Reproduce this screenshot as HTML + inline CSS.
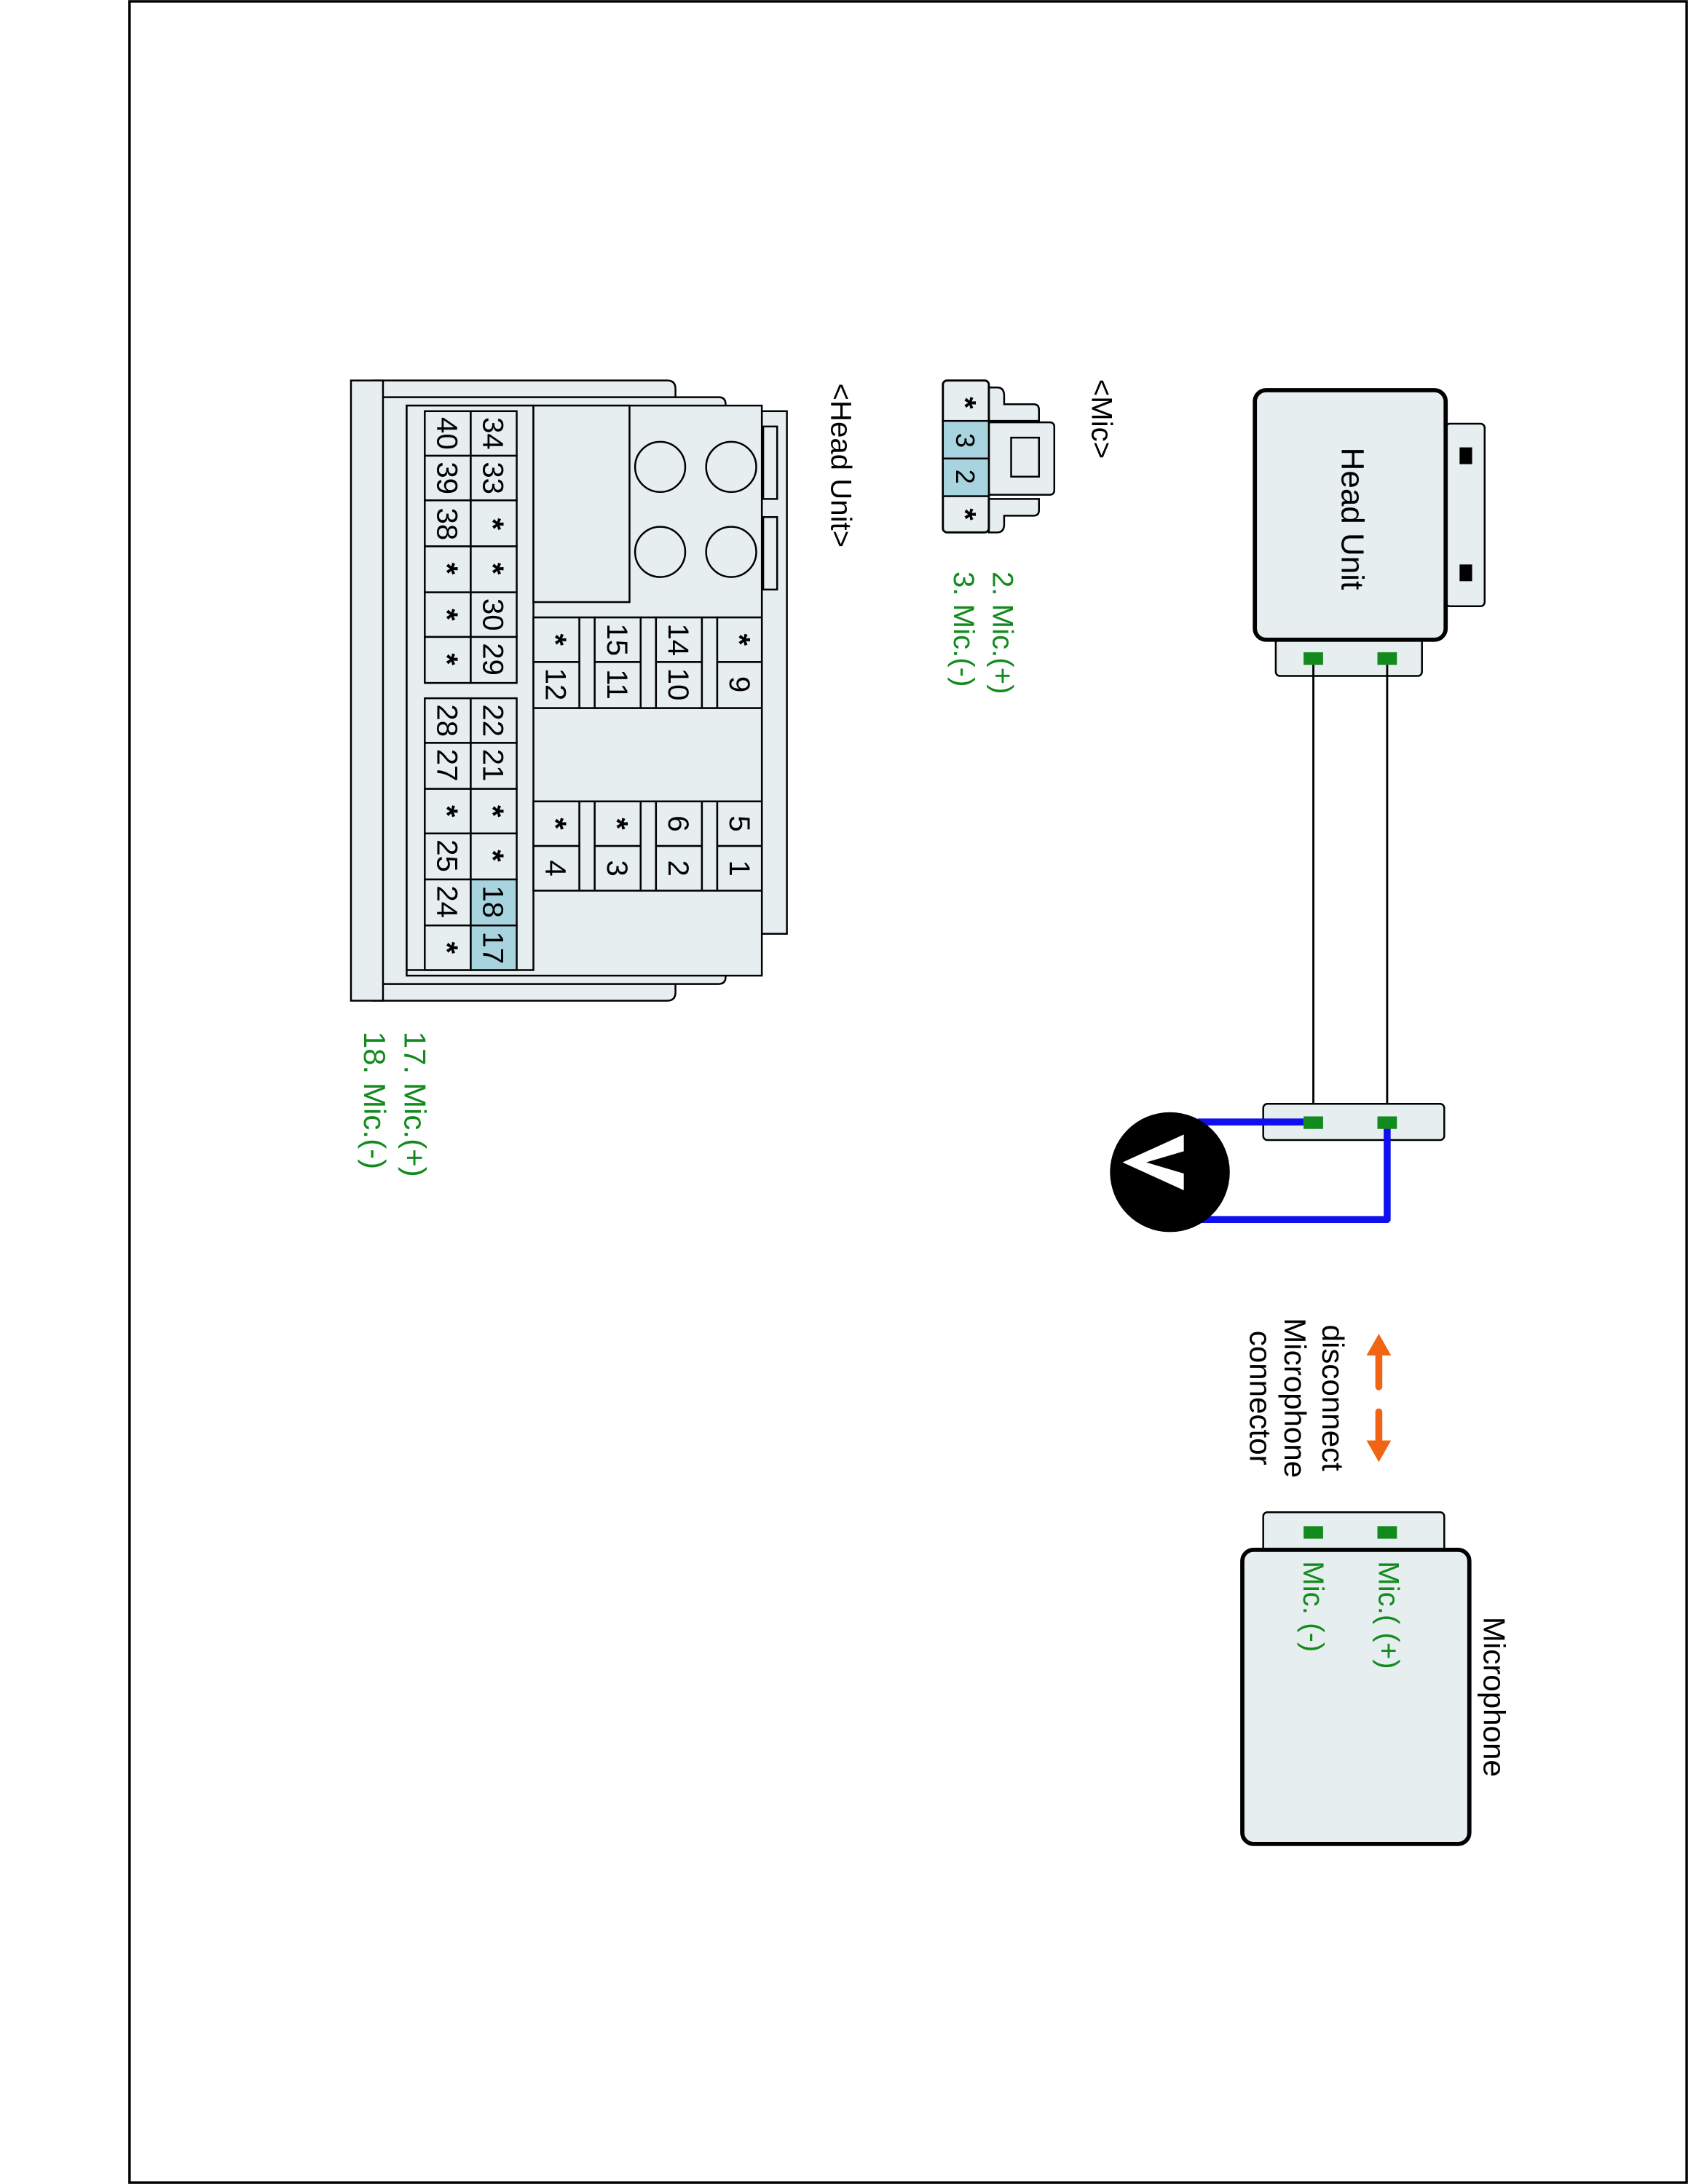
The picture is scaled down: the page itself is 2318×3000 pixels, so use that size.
<!DOCTYPE html>
<html><head><meta charset="utf-8"><style>
html,body{margin:0;padding:0;background:#fff;}
svg{display:block;}
text{font-family:"Liberation Sans",sans-serif;}
.st{font-weight:bold;font-size:22px;}
</style></head><body>
<svg width="2318" height="3000" viewBox="0 0 1212 1567" preserveAspectRatio="none" xmlns="http://www.w3.org/2000/svg">
<rect x="0" y="0" width="1212" height="1567" fill="#fff"/>
<rect x="93" y="1" width="1118" height="1565" fill="none" stroke="#000" stroke-width="1.8"/>

<!-- Head Unit box -->
<rect x="1038" y="304" width="28" height="131" rx="3" fill="#e6eef0" stroke="#000" stroke-width="1.3"/>
<rect x="1048" y="321" width="9" height="12" fill="#000"/>
<rect x="1048" y="405" width="9" height="12" fill="#000"/>
<rect x="916" y="455" width="105" height="30" rx="3" fill="#e6eef0" stroke="#000" stroke-width="1.3"/>
<rect x="901" y="280" width="137" height="179" rx="8" fill="#e6eef0" stroke="#000" stroke-width="3"/>
<text transform="translate(971,321) rotate(90)" font-size="23" dominant-baseline="central">Head Unit</text>
<rect x="936" y="468" width="14" height="9" fill="#138a1e"/>
<rect x="989" y="468" width="14" height="9" fill="#138a1e"/>

<!-- wires -->
<line x1="943" y1="477" x2="943" y2="802" stroke="#000" stroke-width="1.5"/>
<line x1="996" y1="477" x2="996" y2="802" stroke="#000" stroke-width="1.5"/>

<!-- middle connector -->
<rect x="907" y="792" width="130" height="26" rx="3" fill="#e6eef0" stroke="#000" stroke-width="1.3"/>
<polyline points="936,805 860,805" fill="none" stroke="#1010ee" stroke-width="5"/>
<polyline points="996,808 996,875 860,875" fill="none" stroke="#1010ee" stroke-width="5" stroke-linejoin="round"/>
<rect x="936" y="801" width="14" height="9" fill="#138a1e"/>
<rect x="989" y="801" width="14" height="9" fill="#138a1e"/>
<circle cx="840" cy="841" r="43" fill="#000"/>
<polygon points="806,834 850,814 850,826 823,834 850,842 850,854" fill="#fff"/>

<!-- orange arrows -->
<g fill="#f06414" stroke="#f06414">
<line x1="990" y1="970" x2="990" y2="995" stroke-width="5" stroke-linecap="round"/>
<polygon points="990,958 982,972 998,972" stroke-width="1"/>
<line x1="990" y1="1013" x2="990" y2="1036" stroke-width="5" stroke-linecap="round"/>
<polygon points="990,1048 982,1034 998,1034" stroke-width="1"/>
</g>
<text transform="translate(957,1003) rotate(90)" font-size="22" text-anchor="middle" dominant-baseline="central">disconnect</text>
<text transform="translate(930,1003) rotate(90)" font-size="22" text-anchor="middle" dominant-baseline="central">Microphone</text>
<text transform="translate(905,1003) rotate(90)" font-size="22" text-anchor="middle" dominant-baseline="central">connector</text>

<!-- Microphone -->
<rect x="907" y="1085" width="130" height="35" rx="3" fill="#e6eef0" stroke="#000" stroke-width="1.3"/>
<rect x="892" y="1112" width="163" height="211" rx="8" fill="#e6eef0" stroke="#000" stroke-width="3"/>
<rect x="936" y="1095" width="14" height="9" fill="#138a1e"/>
<rect x="989" y="1095" width="14" height="9" fill="#138a1e"/>
<text transform="translate(997,1120) rotate(90)" font-size="21" fill="#138a1e" dominant-baseline="central">Mic.( (+)</text>
<text transform="translate(943,1120) rotate(90)" font-size="21" fill="#138a1e" dominant-baseline="central">Mic. (-)</text>
<text transform="translate(1073,1160) rotate(90)" font-size="22" dominant-baseline="central">Microphone</text>

<!-- Mic label & connector -->
<text transform="translate(791,272) rotate(90)" font-size="21" dominant-baseline="central">&lt;Mic&gt;</text>
<path d="M710,278 L716,278 Q721,278 721,284 L721,290 L742,290 Q746,290 746,294 L746,302 L710,302 Z" fill="#e6eef0" stroke="#000" stroke-width="1.3"/>
<path d="M710,382 L716,382 Q721,382 721,376 L721,370 L742,370 Q746,370 746,366 L746,358 L710,358 Z" fill="#e6eef0" stroke="#000" stroke-width="1.3"/>
<rect x="708" y="303" width="49" height="52" rx="3" fill="#e6eef0" stroke="#000" stroke-width="1.3"/>
<rect x="726" y="314" width="20" height="28" fill="#e6eef0" stroke="#000" stroke-width="1.3"/>
<rect x="677" y="273" width="33" height="109" rx="3" fill="#e6eef0" stroke="#000" stroke-width="1.5"/>
<rect x="677" y="302" width="33" height="27" fill="#a8d4df" stroke="#000" stroke-width="1.3"/>
<rect x="677" y="329" width="33" height="27" fill="#a8d4df" stroke="#000" stroke-width="1.3"/>
<g font-size="19" text-anchor="middle" dominant-baseline="central">
<text class="st" transform="translate(693,289) rotate(90)">*</text>
<text transform="translate(693,316) rotate(90)">3</text>
<text transform="translate(693,342) rotate(90)">2</text>
<text class="st" transform="translate(693,369) rotate(90)">*</text>
</g>
<text transform="translate(720,410) rotate(90)" font-size="21" fill="#138a1e" dominant-baseline="central">2. Mic.(+)</text>
<text transform="translate(692,410) rotate(90)" font-size="21" fill="#138a1e" dominant-baseline="central">3. Mic.(-)</text>

<!-- Head Unit connector -->
<text transform="translate(604,275) rotate(90)" font-size="21" dominant-baseline="central">&lt;Head Unit&gt;</text>
<g stroke="#000" stroke-width="1.3" fill="#e6eef0">
<rect x="547" y="295" width="18" height="375"/>
<rect x="548" y="306" width="10" height="52"/>
<rect x="548" y="371" width="10" height="52"/>
<path d="M268,273 L479,273 Q485,273 485,279 L485,712 Q485,718 479,718 L268,718 Z"/>
<path d="M268,285 L516,285 Q521,285 521,290 L521,701 Q521,706 516,706 L268,706 Z"/>
<rect x="252" y="273" width="23" height="445"/>
<rect x="292" y="291" width="255" height="409"/>
<rect x="292" y="291" width="91" height="405"/>
<rect x="383" y="291" width="69" height="141"/>
</g>
<g fill="none" stroke="#000" stroke-width="1.3">
<ellipse cx="474" cy="335" rx="18" ry="18"/>
<ellipse cx="525" cy="335" rx="18" ry="18"/>
<ellipse cx="474" cy="396" rx="18" ry="18"/>
<ellipse cx="525" cy="396" rx="18" ry="18"/>
<line x1="383" y1="443" x2="547" y2="443"/>
<line x1="383" y1="508" x2="547" y2="508"/>
<line x1="383" y1="575" x2="547" y2="575"/>
<line x1="383" y1="639" x2="547" y2="639"/>
</g>
<!-- small pin cells -->
<g stroke="#000" stroke-width="1.3" fill="#e6eef0">
<rect x="383" y="443" width="33" height="32"/><rect x="383" y="475" width="33" height="33"/>
<rect x="416" y="443" width="11" height="65"/>
<rect x="427" y="443" width="33" height="32"/><rect x="427" y="475" width="33" height="33"/>
<rect x="460" y="443" width="11" height="65"/>
<rect x="471" y="443" width="33" height="32"/><rect x="471" y="475" width="33" height="33"/>
<rect x="504" y="443" width="11" height="65"/>
<rect x="515" y="443" width="32" height="32"/><rect x="515" y="475" width="32" height="33"/>
<rect x="383" y="575" width="33" height="32"/><rect x="383" y="607" width="33" height="32"/>
<rect x="416" y="575" width="11" height="64"/>
<rect x="427" y="575" width="33" height="32"/><rect x="427" y="607" width="33" height="32"/>
<rect x="460" y="575" width="11" height="64"/>
<rect x="471" y="575" width="33" height="32"/><rect x="471" y="607" width="33" height="32"/>
<rect x="504" y="575" width="11" height="64"/>
<rect x="515" y="575" width="32" height="32"/><rect x="515" y="607" width="32" height="32"/>
</g>
<!-- big grid -->
<g stroke="#000" stroke-width="1.3" fill="#e6eef0">
<rect x="305" y="295" width="33" height="32"/><rect x="338" y="295" width="33" height="32"/>
<rect x="305" y="327" width="33" height="32"/><rect x="338" y="327" width="33" height="32"/>
<rect x="305" y="359" width="33" height="33"/><rect x="338" y="359" width="33" height="33"/>
<rect x="305" y="392" width="33" height="33"/><rect x="338" y="392" width="33" height="33"/>
<rect x="305" y="425" width="33" height="32"/><rect x="338" y="425" width="33" height="32"/>
<rect x="305" y="457" width="33" height="33"/><rect x="338" y="457" width="33" height="33"/>
<rect x="305" y="501" width="33" height="32"/><rect x="338" y="501" width="33" height="32"/>
<rect x="305" y="533" width="33" height="33"/><rect x="338" y="533" width="33" height="33"/>
<rect x="305" y="566" width="33" height="32"/><rect x="338" y="566" width="33" height="32"/>
<rect x="305" y="598" width="33" height="33"/><rect x="338" y="598" width="33" height="33"/>
<rect x="305" y="631" width="33" height="33"/><rect x="338" y="631" width="33" height="33" fill="#a8d4df"/>
<rect x="305" y="664" width="33" height="32"/><rect x="338" y="664" width="33" height="32" fill="#a8d4df"/>
</g>
<g font-size="21" text-anchor="middle" dominant-baseline="central">
<text transform="translate(354,311) rotate(90)">34</text><text transform="translate(321,311) rotate(90)">40</text>
<text transform="translate(354,343) rotate(90)">33</text><text transform="translate(321,343) rotate(90)">39</text>
<text class="st" transform="translate(354,376) rotate(90)">*</text><text transform="translate(321,376) rotate(90)">38</text>
<text class="st" transform="translate(354,408) rotate(90)">*</text><text class="st" transform="translate(321,408) rotate(90)">*</text>
<text transform="translate(354,441) rotate(90)">30</text><text class="st" transform="translate(321,441) rotate(90)">*</text>
<text transform="translate(354,473) rotate(90)">29</text><text class="st" transform="translate(321,473) rotate(90)">*</text>
<text transform="translate(354,517) rotate(90)">22</text><text transform="translate(321,517) rotate(90)">28</text>
<text transform="translate(354,549) rotate(90)">21</text><text transform="translate(321,549) rotate(90)">27</text>
<text class="st" transform="translate(354,582) rotate(90)">*</text><text class="st" transform="translate(321,582) rotate(90)">*</text>
<text class="st" transform="translate(354,614) rotate(90)">*</text><text transform="translate(321,614) rotate(90)">25</text>
<text transform="translate(354,647) rotate(90)">18</text><text transform="translate(321,647) rotate(90)">24</text>
<text transform="translate(354,680) rotate(90)">17</text><text class="st" transform="translate(321,680) rotate(90)">*</text>

<text class="st" transform="translate(399,459) rotate(90)">*</text><text transform="translate(399,491) rotate(90)">12</text>
<text transform="translate(443,459) rotate(90)">15</text><text transform="translate(443,491) rotate(90)">11</text>
<text transform="translate(487,459) rotate(90)">14</text><text transform="translate(487,491) rotate(90)">10</text>
<text class="st" transform="translate(531,459) rotate(90)">*</text><text transform="translate(531,491) rotate(90)">9</text>
<text class="st" transform="translate(399,591) rotate(90)">*</text><text transform="translate(399,623) rotate(90)">4</text>
<text class="st" transform="translate(443,591) rotate(90)">*</text><text transform="translate(443,623) rotate(90)">3</text>
<text transform="translate(487,591) rotate(90)">6</text><text transform="translate(487,623) rotate(90)">2</text>
<text transform="translate(531,591) rotate(90)">5</text><text transform="translate(531,623) rotate(90)">1</text>
</g>
<text transform="translate(298,740) rotate(90)" font-size="22" fill="#138a1e" dominant-baseline="central">17. Mic.(+)</text>
<text transform="translate(269,740) rotate(90)" font-size="22" fill="#138a1e" dominant-baseline="central">18. Mic.(-)</text>
</svg>
</body></html>
